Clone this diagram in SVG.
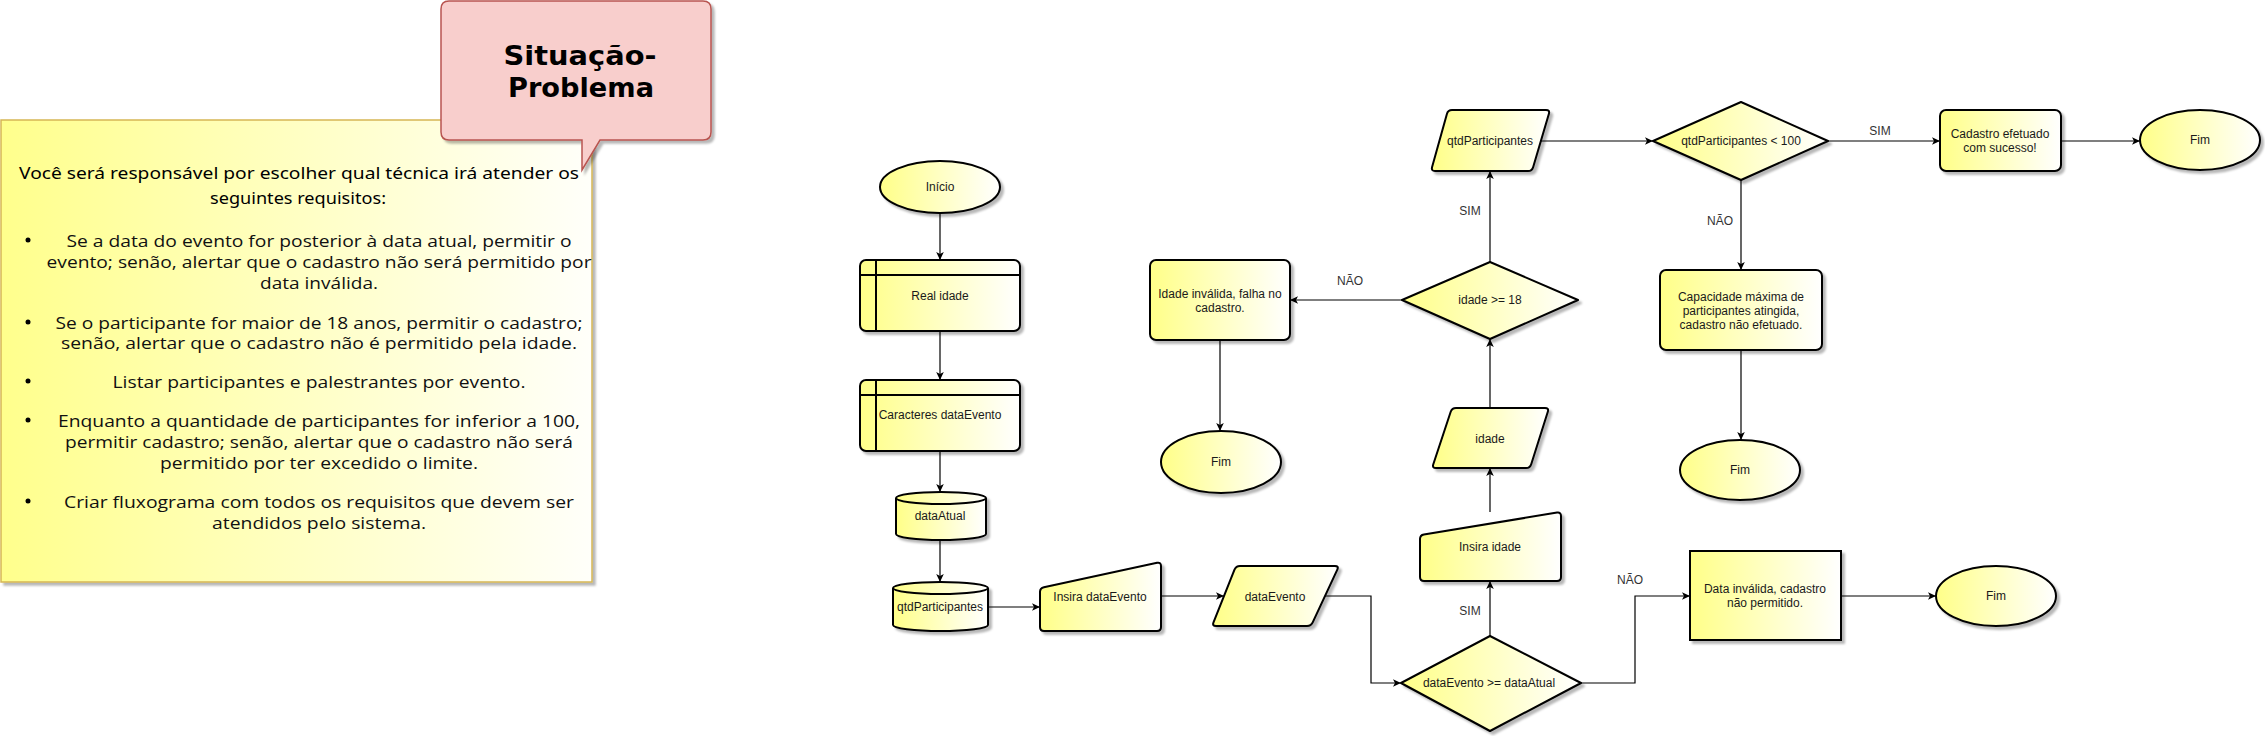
<svg xmlns="http://www.w3.org/2000/svg" width="2265" height="736" viewBox="0 0 2265 736">
<defs>
  <linearGradient id="gY" x1="0" y1="0" x2="1" y2="0">
    <stop offset="0" stop-color="#FFFF88"/>
    <stop offset="1" stop-color="#FFFFFF"/>
  </linearGradient>
  <linearGradient id="gNote" x1="0" y1="0" x2="1" y2="0">
    <stop offset="0" stop-color="#FFFF8C"/>
    <stop offset="1" stop-color="#FFFFFA"/>
  </linearGradient>
  <filter id="sh" x="-10%" y="-10%" width="130%" height="140%">
    <feDropShadow dx="3" dy="3" stdDeviation="1.2" flood-color="#000" flood-opacity="0.28"/>
  </filter>
  <marker id="arr" markerWidth="10" markerHeight="10" refX="9" refY="5" orient="auto" markerUnits="userSpaceOnUse">
    <path d="M1,1.2 L9,5 L1,8.8 L3,5 Z" fill="#000"/>
  </marker>
</defs>
<style>
  .node{fill:url(#gY);stroke:#000;stroke-width:2;stroke-linejoin:round;filter:url(#sh)}
  .sq{stroke-linejoin:miter}
  .inner{fill:none;stroke:#000;stroke-width:2}
  .t{font-family:"Liberation Sans",Arial,sans-serif;font-size:12px;fill:#1a1a1a;text-anchor:middle;dominant-baseline:central}
  .lbl{font-family:"Liberation Sans",Arial,sans-serif;font-size:12px;fill:#333;text-anchor:middle;dominant-baseline:central}
  .c{fill:none;stroke:#000;stroke-width:1.2;marker-end:url(#arr)}
  .intro{font-family:"Noto Sans",sans-serif;font-size:16px;fill:#000;text-anchor:middle;dominant-baseline:central}
  .bul{font-family:"Open Sans",sans-serif;font-size:17px;fill:#111;text-anchor:middle;dominant-baseline:central}
  .title{font-family:"DejaVu Sans",sans-serif;font-weight:bold;font-size:27px;fill:#000;text-anchor:middle;dominant-baseline:central}
</style>
<rect width="2265" height="736" fill="#fff"/>

<g id="note">
  <rect x="1" y="120" width="591" height="462" fill="url(#gNote)" stroke="#D6B656" stroke-width="1.5" filter="url(#sh)"/>
  <text class="intro" x="299" y="173" textLength="560" lengthAdjust="spacingAndGlyphs">Você será responsável por escolher qual técnica irá atender os</text>
  <text class="intro" x="298" y="198" textLength="176" lengthAdjust="spacingAndGlyphs">seguintes requisitos:</text>
  <circle cx="28" cy="240" r="2.5" fill="#000"/>
  <text class="bul" x="319" y="240" textLength="505" lengthAdjust="spacingAndGlyphs">Se a data do evento for posterior à data atual, permitir o</text>
  <text class="bul" x="319" y="261" textLength="545" lengthAdjust="spacingAndGlyphs">evento; senão, alertar que o cadastro não será permitido por</text>
  <text class="bul" x="319" y="282" textLength="118" lengthAdjust="spacingAndGlyphs">data inválida.</text>
  <circle cx="28" cy="322" r="2.5" fill="#000"/>
  <text class="bul" x="319" y="322" textLength="527" lengthAdjust="spacingAndGlyphs">Se o participante for maior de 18 anos, permitir o cadastro;</text>
  <text class="bul" x="319" y="342" textLength="516" lengthAdjust="spacingAndGlyphs">senão, alertar que o cadastro não é permitido pela idade.</text>
  <circle cx="28" cy="381" r="2.5" fill="#000"/>
  <text class="bul" x="319" y="381" textLength="413" lengthAdjust="spacingAndGlyphs">Listar participantes e palestrantes por evento.</text>
  <circle cx="28" cy="420" r="2.5" fill="#000"/>
  <text class="bul" x="319" y="420" textLength="522" lengthAdjust="spacingAndGlyphs">Enquanto a quantidade de participantes for inferior a 100,</text>
  <text class="bul" x="319" y="441" textLength="508" lengthAdjust="spacingAndGlyphs">permitir cadastro; senão, alertar que o cadastro não será</text>
  <text class="bul" x="319" y="462" textLength="318" lengthAdjust="spacingAndGlyphs">permitido por ter excedido o limite.</text>
  <circle cx="28" cy="501" r="2.5" fill="#000"/>
  <text class="bul" x="319" y="501" textLength="510" lengthAdjust="spacingAndGlyphs">Criar fluxograma com todos os requisitos que devem ser</text>
  <text class="bul" x="319" y="522" textLength="214" lengthAdjust="spacingAndGlyphs">atendidos pelo sistema.</text>
</g>

<g id="callout">
  <path d="M449,1 H703 Q711,1 711,9 V132 Q711,140 703,140 H600 L582,170 L582,140 H449 Q441,140 441,132 V9 Q441,1 449,1 Z" fill="#F8CECC" stroke="#B85450" stroke-width="1.5" filter="url(#sh)"/>
  <text class="title" x="580" y="55" textLength="153" lengthAdjust="spacingAndGlyphs">Situação-</text>
  <text class="title" x="581" y="87" textLength="146" lengthAdjust="spacingAndGlyphs">Problema</text>
</g>

<g id="connectors">
  <path class="c" d="M940,213 V260"/>
  <path class="c" d="M940,331 V380"/>
  <path class="c" d="M940,451 V492"/>
  <path class="c" d="M940,540 V582"/>
  <path class="c" d="M988,607 H1040"/>
  <path class="c" d="M1161,596 H1224"/>
  <path class="c" d="M1325,596 H1371 V683 H1401"/>
  <path class="c" d="M1490,636 V581"/>
  <path class="c" d="M1490,512 V468"/>
  <path class="c" d="M1490,408 V339"/>
  <path class="c" d="M1402,300 H1290"/>
  <path class="c" d="M1220,340 V431"/>
  <path class="c" d="M1490,262 V171"/>
  <path class="c" d="M1541,141 H1653"/>
  <path class="c" d="M1828,141 H1940"/>
  <path class="c" d="M2061,141 H2140"/>
  <path class="c" d="M1741,180 V270"/>
  <path class="c" d="M1741,350 V440"/>
  <path class="c" d="M1581,683 H1635 V596 H1690"/>
  <path class="c" d="M1841,596 H1936"/>
  <text class="lbl" x="1350" y="281">NÃO</text>
  <text class="lbl" x="1470" y="611">SIM</text>
  <text class="lbl" x="1470" y="211">SIM</text>
  <text class="lbl" x="1720" y="221">NÃO</text>
  <text class="lbl" x="1880" y="131">SIM</text>
  <text class="lbl" x="1630" y="580">NÃO</text>
</g>

<g id="inicio">
  <ellipse class="node" cx="940" cy="187" rx="60" ry="26"/>
  <text class="t" x="940" y="187">Início</text>
</g>
<g id="real_idade">
  <rect class="node" x="860" y="260" width="160" height="71" rx="6"/>
  <path class="inner" d="M876,260 V331 M860,275 H1020"/>
  <text class="t" x="940" y="296">Real idade</text>
</g>
<g id="caracteres_dataEvento">
  <rect class="node" x="860" y="380" width="160" height="71" rx="6"/>
  <path class="inner" d="M876,380 V451 M860,395 H1020"/>
  <text class="t" x="940" y="415">Caracteres dataEvento</text>
</g>
<g id="dataAtual">
  <path class="node" d="M896,498 A45,6 0 0 1 986,498 V534 A45,6 0 0 1 896,534 Z"/>
  <path class="inner" d="M896,498 A45,6 0 0 0 986,498"/>
  <text class="t" x="940" y="516">dataAtual</text>
</g>
<g id="qtdParticipantes_db">
  <path class="node" d="M893,588 A47.5,6 0 0 1 988,588 V625 A47.5,6 0 0 1 893,625 Z"/>
  <path class="inner" d="M893,588 A47.5,6 0 0 0 988,588"/>
  <text class="t" x="940" y="607">qtdParticipantes</text>
</g>
<g id="insira_dataEvento">
  <path class="node" d="M1040,592 Q1040,588 1043.9,587.2 L1157.1,562.8 Q1161,562 1161,566 L1161,627 Q1161,631 1157,631 L1044,631 Q1040,631 1040,627 Z"/>
  <text class="t" x="1100" y="597">Insira dataEvento</text>
</g>
<g id="dataEvento">
  <path class="node" d="M1240,566 L1335,566 Q1339,566 1337.3,569.6 L1312.7,622.4 Q1311,626 1307,626 L1216,626 Q1212,626 1213.5,622.3 L1234.5,569.7 Q1236,566 1240,566 Z"/>
  <text class="t" x="1275" y="597">dataEvento</text>
</g>
<g id="dec_data">
  <path class="node" d="M1401,683 L1490,636 L1581,683 L1490,731 Z"/>
  <text class="t" x="1489" y="683">dataEvento &gt;= dataAtual</text>
</g>
<g id="insira_idade">
  <path class="node" d="M1420,539 Q1420,535 1423.9,534.4 L1557.1,512.6 Q1561,512 1561,516 L1561,577 Q1561,581 1557,581 L1424,581 Q1420,581 1420,577 Z"/>
  <text class="t" x="1490" y="547">Insira idade</text>
</g>
<g id="idade">
  <path class="node" d="M1456,408 L1545,408 Q1549,408 1547.8,411.8 L1531.2,464.2 Q1530,468 1526,468 L1436,468 Q1432,468 1433.3,464.2 L1450.7,411.8 Q1452,408 1456,408 Z"/>
  <text class="t" x="1490" y="439">idade</text>
</g>
<g id="dec_idade">
  <path class="node" d="M1402,300 L1490,262 L1578,300 L1490,339 Z"/>
  <text class="t" x="1490" y="300">idade &gt;= 18</text>
</g>
<g id="idade_invalida">
  <rect class="node" x="1150" y="260" width="140" height="80" rx="6"/>
  <text class="t" x="1220" y="294">Idade inválida, falha no</text>
  <text class="t" x="1220" y="308">cadastro.</text>
</g>
<g id="fim1">
  <ellipse class="node" cx="1221" cy="462" rx="60" ry="31"/>
  <text class="t" x="1221" y="462">Fim</text>
</g>
<g id="qtdParticipantes_in">
  <path class="node" d="M1452,110 L1546,110 Q1550,110 1548.9,113.8 L1533.1,167.2 Q1532,171 1528,171 L1435,171 Q1431,171 1432.1,167.1 L1446.9,113.9 Q1448,110 1452,110 Z"/>
  <text class="t" x="1490" y="141">qtdParticipantes</text>
</g>
<g id="dec_qtd">
  <path class="node" d="M1653,141 L1741,102 L1828,141 L1741,180 Z"/>
  <text class="t" x="1741" y="141">qtdParticipantes &lt; 100</text>
</g>
<g id="capacidade">
  <rect class="node" x="1660" y="270" width="162" height="80" rx="6"/>
  <text class="t" x="1741" y="297">Capacidade máxima de</text>
  <text class="t" x="1741" y="311">participantes atingida,</text>
  <text class="t" x="1741" y="325">cadastro não efetuado.</text>
</g>
<g id="fim2">
  <ellipse class="node" cx="1740" cy="470" rx="60" ry="30"/>
  <text class="t" x="1740" y="470">Fim</text>
</g>
<g id="cadastro_ok">
  <rect class="node" x="1940" y="110" width="121" height="61" rx="6"/>
  <text class="t" x="2000" y="134">Cadastro efetuado</text>
  <text class="t" x="2000" y="148">com sucesso!</text>
</g>
<g id="fim3">
  <ellipse class="node" cx="2200" cy="140" rx="60" ry="30"/>
  <text class="t" x="2200" y="140">Fim</text>
</g>
<g id="data_invalida">
  <rect class="node sq" x="1690" y="551" width="151" height="89"/>
  <text class="t" x="1765" y="589">Data inválida, cadastro</text>
  <text class="t" x="1765" y="603">não permitido.</text>
</g>
<g id="fim4">
  <ellipse class="node" cx="1996" cy="596" rx="60" ry="30"/>
  <text class="t" x="1996" y="596">Fim</text>
</g>
</svg>
